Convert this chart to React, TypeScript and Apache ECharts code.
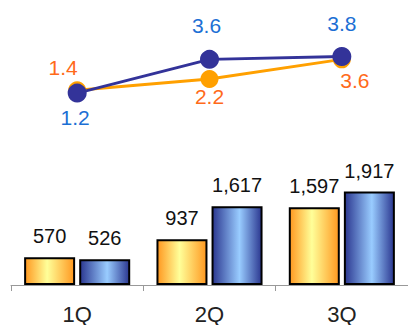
import React, { useEffect, useRef } from "react";
import * as echarts from "echarts";

const quarters = ["1Q", "2Q", "3Q"];
const barOrange = [570, 937, 1597];
const barBlue = [526, 1617, 1917];
const lineOrange = [1.4, 2.2, 3.6];
const lineBlue = [1.2, 3.6, 3.8];
// label offsets (px) from each point's centre
const orangeLabelOffsets = [[-14, -23], [0, 17], [13, 21]];
const blueLabelOffsets = [[-2, 24], [-3, -34], [0, -33]];

const FONT = "'Liberation Sans', Arial, sans-serif";

export default function App() {
  const ref = useRef<HTMLDivElement>(null);

  useEffect(() => {
    if (!ref.current) return;
    const chart = echarts.init(ref.current, null, { renderer: "svg" });

    const orangeFill = new echarts.graphic.LinearGradient(0, 0, 1, 0, [
      { offset: 0, color: "#FF9820" },
      { offset: 0.45, color: "#FFFF99" },
      { offset: 1, color: "#FF9820" },
    ]);
    const blueFill = new echarts.graphic.LinearGradient(0, 0, 1, 0, [
      { offset: 0, color: "#2B3790" },
      { offset: 0.55, color: "#99CCFF" },
      { offset: 1, color: "#2B3790" },
    ]);

    const pointData = (vals: number[], offs: number[][]) =>
      vals.map((v, i) => ({ value: v, label: { offset: offs[i] } }));

    const barLabel = {
      show: true,
      position: "top",
      distance: 11,
      fontSize: 20,
      color: "#111111",
      fontFamily: FONT,
      formatter: (p: any) => p.value.toLocaleString("en-US"),
    };

    chart.setOption({
      animation: false,
      textStyle: { fontFamily: FONT },
      grid: [
        { left: 11, width: 399, top: 20, height: 90 },
        { left: 11, width: 399, top: 168, height: 119 },
      ],
      xAxis: [
        { type: "category", data: quarters, gridIndex: 0, show: false },
        {
          type: "category",
          data: quarters,
          gridIndex: 1,
          axisLine: { lineStyle: { color: "#999999", width: 1 } },
          axisTick: { show: true, length: 6, lineStyle: { color: "#999999" } },
          axisLabel: { fontSize: 22, color: "#222222", margin: 18, fontFamily: FONT },
        },
      ],
      yAxis: [
        { type: "value", gridIndex: 0, min: 0, max: 6.4, show: false },
        { type: "value", gridIndex: 1, min: 0, max: 2400, show: false },
      ],
      series: [
        {
          type: "bar",
          xAxisIndex: 1,
          yAxisIndex: 1,
          data: barOrange,
          barWidth: 51,
          barGap: "8%",
          itemStyle: { color: orangeFill, borderColor: "#000000", borderWidth: 2 },
          label: barLabel,
        },
        {
          type: "bar",
          xAxisIndex: 1,
          yAxisIndex: 1,
          data: barBlue,
          barWidth: 51,
          itemStyle: { color: blueFill, borderColor: "#000000", borderWidth: 2 },
          label: barLabel,
        },
        {
          type: "line",
          xAxisIndex: 0,
          yAxisIndex: 0,
          data: pointData(lineOrange, orangeLabelOffsets),
          symbol: "circle",
          symbolSize: 18,
          lineStyle: { color: "#FFA000", width: 3 },
          itemStyle: { color: "#FFA000" },
          label: {
            show: true,
            position: "inside",
            fontSize: 21,
            color: "#FF6A1A",
            fontFamily: FONT,
            formatter: (p: any) => Number(p.value).toFixed(1),
          },
        },
        {
          type: "line",
          xAxisIndex: 0,
          yAxisIndex: 0,
          data: pointData(lineBlue, blueLabelOffsets),
          symbol: "circle",
          symbolSize: 19,
          lineStyle: { color: "#333399", width: 3 },
          itemStyle: { color: "#333399" },
          label: {
            show: true,
            position: "inside",
            fontSize: 21,
            color: "#1C6FD4",
            fontFamily: FONT,
            formatter: (p: any) => Number(p.value).toFixed(1),
          },
        },
      ],
    });

    return () => chart.dispose();
  }, []);

  return (
    <div
      ref={ref}
      style={{ position: "absolute", left: 0, top: 0, width: 408, height: 325, background: "#ffffff" }}
    />
  );
}
